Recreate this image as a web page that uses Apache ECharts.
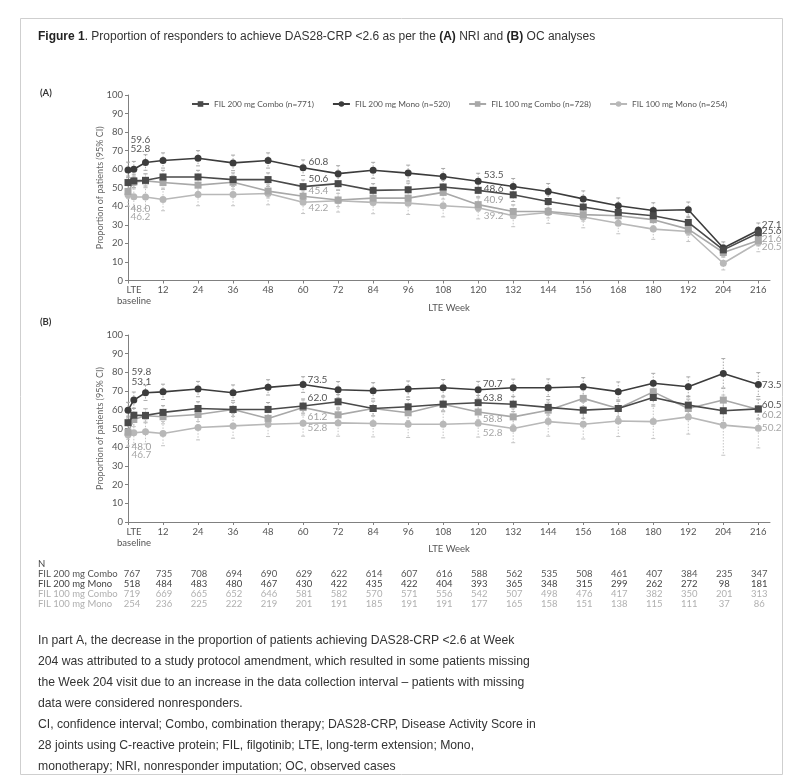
<!DOCTYPE html>
<html><head><meta charset="utf-8">
<script src="https://cdn.jsdelivr.net/npm/echarts@6/dist/echarts.min.js"></script>
<style>html,body{margin:0;padding:0;background:#fff;}#c{width:799px;height:781px;}</style>
</head><body><div id="c"></div>
<script>
// ---------------- DATA ----------------
const weeks = [0,2,6,12,24,36,48,60,72,84,96,108,120,132,144,156,168,180,192,204,216];
const tickWeeks = [0,12,24,36,48,60,72,84,96,108,120,132,144,156,168,180,192,204,216];
const seriesNames = ['FIL 200 mg Combo (n=771)','FIL 200 mg Mono (n=520)','FIL 100 mg Combo (n=728)','FIL 100 mg Mono (n=254)'];

// Panel A (NRI) proportions, %
const A_fil200Combo = [52.8,53.7,54.0,55.8,55.8,54.4,54.4,50.6,52.2,48.6,48.9,50.4,48.6,46.2,42.6,39.6,36.7,34.9,31.3,16.5,25.6];
const A_fil200Mono  = [59.6,60.0,63.6,64.7,65.9,63.4,64.7,60.8,57.6,59.4,57.9,56.1,53.5,50.7,48.0,44.0,40.3,37.7,38.1,17.5,27.1];
const A_fil100Combo = [48.0,53.1,53.7,52.8,51.4,53.0,48.2,45.4,43.4,44.4,44.4,47.5,40.9,37.2,37.2,35.5,34.9,32.8,27.7,15.1,21.6];
const A_fil100Mono  = [46.2,45.1,45.0,43.7,46.4,46.4,46.9,42.2,43.0,42.1,41.7,40.3,39.2,34.9,36.7,34.2,30.9,27.7,26.4,9.3,20.5];
// Panel A 95% CI half-widths (estimated)
const A_ci200Combo = [3.5,3.6,3.6,3.6,3.6,3.6,3.6,3.6,3.6,3.6,3.6,3.6,3.6,3.6,3.5,3.5,3.4,3.4,3.3,2.7,3.1];
const A_ci200Mono  = [4.2,4.2,4.2,4.1,4.1,4.2,4.1,4.2,4.3,4.3,4.3,4.3,4.3,4.3,4.3,4.3,4.2,4.2,4.2,3.3,3.9];
const A_ci100Combo = [3.7,3.7,3.7,3.7,3.7,3.7,3.7,3.6,3.6,3.6,3.6,3.6,3.6,3.5,3.5,3.5,3.5,3.4,3.3,2.6,3.0];
const A_ci100Mono  = [6.1,6.1,6.1,6.1,6.1,6.1,6.1,6.1,6.1,6.1,6.1,6.0,6.0,5.9,5.9,5.8,5.7,5.5,5.4,3.6,5.0];

// Panel B (OC) proportions, %
const B_fil200Combo = [53.1,57.1,57.0,58.6,60.7,60.2,60.2,62.0,64.3,60.7,61.6,63.0,63.8,63.0,61.3,59.8,60.7,66.6,62.5,59.5,60.5];
const B_fil200Mono  = [59.8,65.2,69.1,69.6,71.1,69.1,72.0,73.5,70.7,70.2,71.1,71.8,70.7,71.8,71.8,72.3,69.7,74.2,72.3,79.4,73.5];
const B_fil100Combo = [48.0,54.8,56.8,56.3,57.5,60.2,55.4,61.2,57.3,60.7,58.4,63.0,58.8,56.2,59.8,66.1,60.7,69.6,60.7,65.2,60.2];
const B_fil100Mono  = [46.7,47.7,48.2,47.3,50.5,51.4,52.3,52.8,53.0,52.7,52.3,52.3,52.8,50.0,53.7,52.3,54.0,53.7,56.2,51.8,50.2];
// Panel B 95% CI half-widths (estimated)
const B_ci200Combo = [3.5,3.6,3.6,3.6,3.6,3.7,3.7,3.8,3.8,3.9,3.9,3.9,3.9,4.0,4.1,4.3,4.5,4.6,4.8,6.3,5.1];
const B_ci200Mono  = [4.2,4.3,4.1,4.1,4.1,4.2,4.1,4.2,4.4,4.3,4.3,4.4,4.5,4.6,4.7,4.9,5.2,5.3,5.3,8.0,6.4];
const B_ci100Combo = [3.7,3.8,3.8,3.8,3.8,3.8,3.8,4.0,4.0,4.0,4.1,4.1,4.1,4.3,4.3,4.3,4.7,4.6,5.1,6.6,5.4];
const B_ci100Mono  = [6.1,6.4,6.5,6.5,6.6,6.6,6.6,6.9,7.1,7.2,7.1,7.3,7.4,7.6,7.8,7.9,8.3,9.1,9.2,16.1,10.6];

// N at risk table
const N_fil200Combo = [767,735,708,694,690,629,622,614,607,616,588,562,535,508,461,407,384,235,347];
const N_fil200Mono  = [518,484,483,480,467,430,422,435,422,404,393,365,348,315,299,262,272,98,181];
const N_fil100Combo = [719,669,665,652,646,581,582,570,571,556,542,507,498,476,417,382,350,201,313];
const N_fil100Mono  = [254,236,225,222,219,201,191,185,191,191,177,165,158,151,138,115,111,37,86];
const N_rowLabels = ['FIL 200 mg Combo','FIL 200 mg Mono','FIL 100 mg Combo','FIL 100 mg Mono'];

const footnotes = [
 'In part A, the decrease in the proportion of patients achieving DAS28-CRP <2.6 at Week',
 '204 was attributed to a study protocol amendment, which resulted in some patients missing',
 'the Week 204 visit due to an increase in the data collection interval \u2013 patients with missing',
 'data were considered nonresponders.',
 'CI, confidence interval; Combo, combination therapy; DAS28-CRP, Disease Activity Score in',
 '28 joints using C-reactive protein; FIL, filgotinib; LTE, long-term extension; Mono,',
 'monotherapy; NRI, nonresponder imputation; OC, observed cases'
];

// ---------------- STYLES ----------------
const FONT = 'Lato, "Open Sans", sans-serif';
const SANS = '"Liberation Sans", Arial, sans-serif';
const styles = [
  {color:'#4a4a4a', symbol:'rect',   labelColor:'#555'},
  {color:'#3c3c3c', symbol:'circle', labelColor:'#555'},
  {color:'#a8a8a8', symbol:'rect',   labelColor:'#a0a0a0'},
  {color:'#b8b8b8', symbol:'circle', labelColor:'#a8a8a8'}
];
const labelIdx = [0,7,12,20];
// label offsets [dx,dy] per panel, per series, per labelled point
const labelOffsets = {
  A: [ [[-4,-34],[-1,-8],[-1,-2],[-3,-2]],
       [[-4,-30],[-1,-6],[-1,-6],[-3,-5]],
       [[-4,17],[-1,-6],[-1,-5],[-3,-2]],
       [[-4,22],[-1,6],[-1,8],[-3,4]] ],
  B: [ [[-3,-41],[-2,-8],[-2,-5],[-3,-4]],
       [[-3,-38],[-2,-5],[-2,-6],[-3,0]],
       [[-3,15],[-2,9],[-2,7],[-3,5]],
       [[-3,20],[-2,5],[-2,10],[-3,0]] ]
};

function lineSeries(panel, k, vals) {
  const gi = panel === 'A' ? 0 : 1;
  const st = styles[k];
  return {
    type:'line', name: seriesNames[k], xAxisIndex: gi, yAxisIndex: gi,
    symbol: st.symbol, symbolSize: 7, z: 3 + (3-k),
    itemStyle:{color: st.color}, lineStyle:{color: st.color, width: 1.6},
    emphasis:{disabled:true}, animation:false,
    data: weeks.map((w,i)=>{
      const item = {value:[w, vals[i]]};
      const li = labelIdx.indexOf(i);
      if (li >= 0) {
        item.label = {show:true, position:'right', distance:3,
          offset: labelOffsets[panel][k][li],
          formatter: p => p.value[1].toFixed(1),
          color: st.labelColor, fontSize: 10, fontFamily: FONT};
      }
      return item;
    })
  };
}
function errSeries(panel, k, vals, ci) {
  const gi = panel === 'A' ? 0 : 1;
  const col = k < 2 ? '#a9a9a9' : '#c4c4c4';
  return {
    type:'custom', xAxisIndex: gi, yAxisIndex: gi, z: 1, animation:false, silent:true,
    encode:{x:0, y:[1,2]},
    data: weeks.map((w,i)=>[w, vals[i]-ci[i], vals[i]+ci[i]]),
    renderItem: function(params, api){
      const x = api.value(0);
      const p1 = api.coord([x, api.value(2)]);
      const p2 = api.coord([x, api.value(1)]);
      const st = {stroke: col, lineWidth: 1};
      return {type:'group', children:[
        {type:'line', shape:{x1:p1[0],y1:p1[1],x2:p2[0],y2:p2[1]}, style:{stroke:col, lineWidth:1, lineDash:[1.5,1.5]}},
        {type:'line', shape:{x1:p1[0]-2,y1:p1[1],x2:p1[0]+2,y2:p1[1]}, style:st},
        {type:'line', shape:{x1:p2[0]-2,y1:p2[1],x2:p2[0]+2,y2:p2[1]}, style:st}
      ]};
    }
  };
}

function xAxisDef(gi, gap){
  return {
    type:'value', gridIndex: gi, min:0, max:220,
    axisLine:{show:true, lineStyle:{color:'#808080', width:1}},
    axisTick:{show:true, customValues: tickWeeks, length:3, lineStyle:{color:'#808080'}},
    splitLine:{show:false},
    axisLabel:{customValues: tickWeeks, color:'#555', fontSize:9.5, fontFamily: FONT, margin:4, lineHeight:11,
      formatter: v => v === 0 ? '{b|LTE}\n{b|baseline}' : String(v),
      rich:{b:{padding:[0,0,0,12], color:'#555', fontSize:9.5, fontFamily:FONT, lineHeight:11}}},
    name:'LTE Week', nameLocation:'middle', nameGap:gap, nameMoveOverlap:false,
    nameTextStyle:{color:'#555', fontSize:9.5, fontFamily: FONT}
  };
}
function yAxisDef(gi){
  return {
    type:'value', gridIndex: gi, min:0, max:100, interval:10,
    axisLine:{show:true, lineStyle:{color:'#808080', width:1}},
    axisTick:{show:true, length:3, lineStyle:{color:'#808080'}},
    splitLine:{show:false},
    axisLabel:{color:'#555', fontSize:9.5, fontFamily: FONT, margin:5},
    name:'Proportion of patients (95% CI)', nameLocation:'middle', nameGap:23, nameMoveOverlap:false,
    nameTextStyle:{color:'#666', fontSize:9, fontFamily: FONT}
  };
}

const chart = echarts.init(document.getElementById('c'), null, {renderer:'canvas'});
const A_vals = [A_fil200Combo, A_fil200Mono, A_fil100Combo, A_fil100Mono];
const A_cis  = [A_ci200Combo, A_ci200Mono, A_ci100Combo, A_ci100Mono];
const B_vals = [B_fil200Combo, B_fil200Mono, B_fil100Combo, B_fil100Mono];
const B_cis  = [B_ci200Combo, B_ci200Mono, B_ci100Combo, B_ci100Mono];
const series = [];
for (let k=0;k<4;k++){ series.push(errSeries('A',k,A_vals[k],A_cis[k])); series.push(errSeries('B',k,B_vals[k],B_cis[k])); }
for (let k=3;k>=0;k--){ series.push(lineSeries('A',k,A_vals[k])); series.push(lineSeries('B',k,B_vals[k])); }

chart.setOption({
  backgroundColor:'#fff',
  animation:false,
  title:{
    left:33, top:26,
    text:'{b|Figure 1}. Proportion of responders to achieve DAS28-CRP <2.6 as per the {b|(A)} NRI and {b|(B)} OC analyses',
    textStyle:{fontSize:12, fontWeight:'normal', color:'#333', fontFamily:SANS,
      rich:{b:{fontSize:12, fontWeight:'bold', color:'#222', fontFamily:SANS}}}
  },
  legend:{
    left:186, top:95, itemWidth:17, itemHeight:7, itemGap:18,
    data: seriesNames,
    textStyle:{color:'#555', fontSize:8.3, fontFamily: FONT}
  },
  grid:[
    {left:128, top:95, width:642, height:185.5},
    {left:128, top:335, width:642, height:187}
  ],
  xAxis:[xAxisDef(0,22), xAxisDef(1,21.5)],
  yAxis:[yAxisDef(0), yAxisDef(1)],
  series: series
});

// ---------- graphic: panel letters, N table, footnotes, frame ----------
const g = [];
g.push({type:'rect', shape:{x:20.5,y:18.5,width:762,height:756}, style:{fill:'none', stroke:'#cfcfcf', lineWidth:1}, silent:true});
g.push({type:'text', left:40, top:88, style:{text:'(A)', font:'bold 9.5px '+FONT, fill:'#333'}});
g.push({type:'text', left:40, top:317, style:{text:'(B)', font:'bold 9.5px '+FONT, fill:'#333'}});
g.push({type:'text', x:38, y:564, style:{text:'N', font:'9.5px '+FONT, fill:'#444', verticalAlign:'middle'}});
const nRows = [N_fil200Combo, N_fil200Mono, N_fil100Combo, N_fil100Mono];
const nColors = ['#555','#444','#b0b0b0','#b0b0b0'];
nRows.forEach((row, r)=>{
  const y = 574 + r*10;
  g.push({type:'text', x:38, y:y, style:{text:N_rowLabels[r], font:'9.5px '+FONT, fill:nColors[r], verticalAlign:'middle'}});
  row.forEach((n, i)=>{
    const px = chart.convertToPixel({xAxisIndex:1}, tickWeeks[i]);
    g.push({type:'text', x: px + (i===0 ? 4 : 1), y:y, style:{text:String(n), font:'9.5px '+FONT, fill:nColors[r], align:'center', verticalAlign:'middle'}});
  });
});
footnotes.forEach((t, i)=>{
  g.push({type:'text', x:38, y:641 + i*21, style:{text:t, font:'12.2px '+SANS, fill:'#333', verticalAlign:'middle'}});
});
chart.setOption({graphic: g});
</script>
</body></html>
